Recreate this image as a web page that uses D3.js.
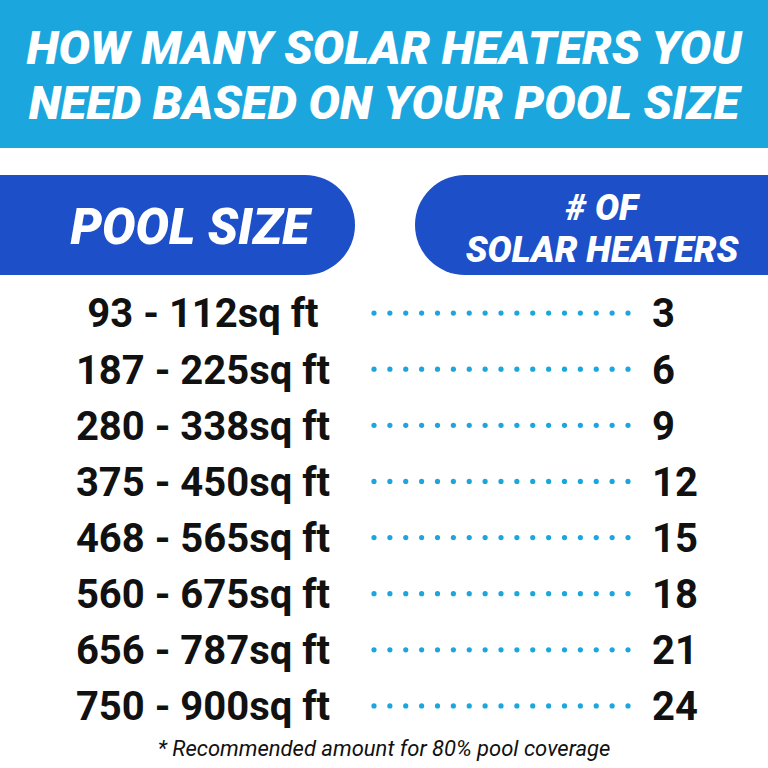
<!DOCTYPE html>
<meta charset="utf-8">
<style>
  body{margin:0;background:#fff}
  text{font-family:Roboto,"Open Sans",sans-serif}
  .head{fill:#fff;font-weight:900;font-style:italic;text-anchor:middle}
  .row{fill:#111;font-weight:700;font-size:40px}
</style>
<script src="https://d3js.org/d3.v7.min.js"></script>
<svg width="768" height="768"></svg>
<script>
var titleLines = ["HOW MANY SOLAR HEATERS YOU", "NEED BASED ON YOUR POOL SIZE"];
var poolSizes = ["93 - 112sq ft","187 - 225sq ft","280 - 338sq ft","375 - 450sq ft",
                 "468 - 565sq ft","560 - 675sq ft","656 - 787sq ft","750 - 900sq ft"];
var heaters = [3, 6, 9, 12, 15, 18, 21, 24];
var note = "* Recommended amount for 80% pool coverage";

var svg = d3.select("svg");
var cyan = "#1ba7dd", blue = "#1c4fc8";

svg.append("rect").attr("width", 768).attr("height", 148).attr("fill", cyan);
svg.selectAll(".title").data(titleLines).enter().append("text")
  .attr("class", "head").attr("x", 384).attr("y", function(d, i){ return 64 + i*55; })
  .style("font-size", "47px").text(function(d){ return d; });

// header pills
svg.append("path").attr("fill", blue)
  .attr("d", "M0,175 H305 A50,50 0 0 1 305,275 H0 Z");
svg.append("path").attr("fill", blue)
  .attr("d", "M768,175 H465 A50,50 0 0 0 465,275 H768 Z");
svg.append("text").attr("class", "head").attr("x", 190).attr("y", 244)
  .style("font-size", "50px").text("POOL SIZE");
svg.append("text").attr("class", "head").attr("x", 602).attr("y", 220)
  .style("font-size", "36px").text("# OF");
svg.append("text").attr("class", "head").attr("x", 602).attr("y", 262)
  .style("font-size", "36px").text("SOLAR HEATERS");

var y = d3.scaleBand().domain(d3.range(poolSizes.length)).range([285, 734]);
var row = svg.selectAll(".r").data(poolSizes).enter().append("g")
  .attr("transform", function(d, i){ return "translate(0," + (y(i) + y.bandwidth()/2) + ")"; });

row.append("text").attr("class", "row").attr("x", 203).attr("dy", "0.36em")
  .attr("text-anchor", "middle").text(function(d){ return d; });
row.append("text").attr("class", "row").attr("x", 652).attr("dy", "0.36em")
  .text(function(d, i){ return heaters[i]; });

var dx = d3.scaleLinear().domain([0, 16]).range([374, 628]);
row.selectAll("circle").data(d3.range(17)).enter().append("circle")
  .attr("cx", function(d){ return dx(d); }).attr("cy", 0).attr("r", 2.6).attr("fill", cyan);

svg.append("text").attr("x", 384).attr("y", 756).attr("text-anchor", "middle")
  .style("font-style", "italic").style("font-size", "22px").attr("fill", "#111").text(note);
</script>
